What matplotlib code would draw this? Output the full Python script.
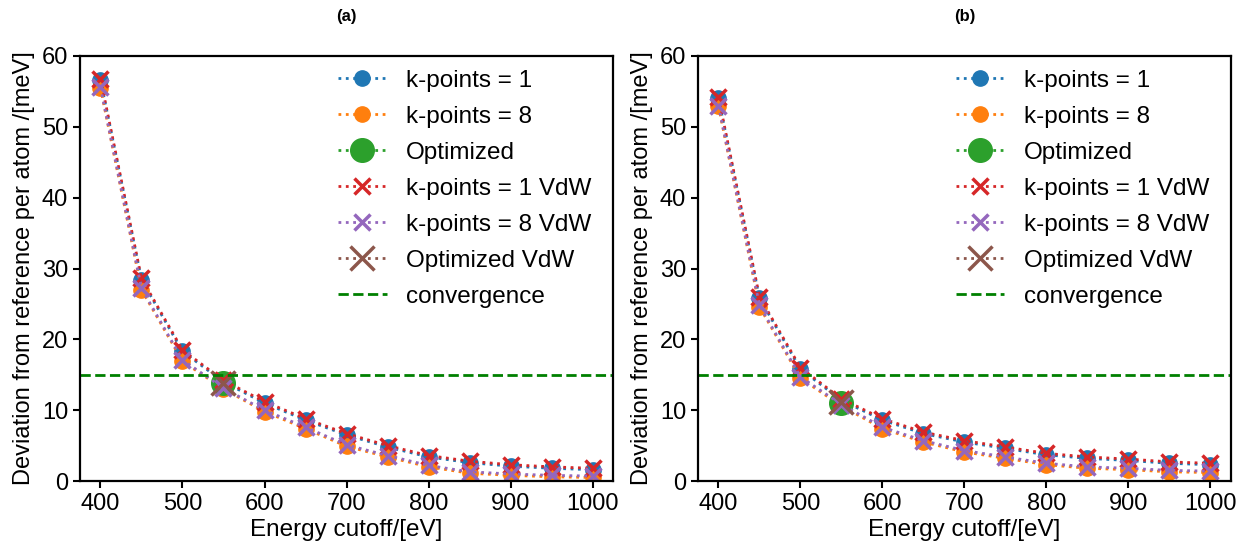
import matplotlib
matplotlib.use("Agg")
import matplotlib.pyplot as plt

plt.rcParams["font.family"] = ["Liberation Sans", "DejaVu Sans"]

cutoff = [400, 450, 500, 550, 600, 650, 700, 750, 800, 850, 900, 950, 1000]
opt_cutoff = 550
conv_level = 15

# panel (a)
a_k1    = [56.6, 28.4, 18.3, 14.0, 11.0, 8.6, 6.5, 4.8, 3.4, 2.6, 2.1, 1.8, 1.6]
a_k8    = [55.5, 27.0, 16.9, 13.0, 9.8, 7.4, 4.9, 3.4, 2.0, 1.1, 0.8, 0.6, 0.5]
a_k1_vdw = [56.8, 28.6, 18.5, 14.2, 11.2, 8.8, 6.7, 5.0, 3.6, 2.8, 2.3, 2.0, 1.8]
a_k8_vdw = [55.6, 27.2, 17.1, 13.1, 10.0, 7.6, 5.1, 3.6, 2.2, 1.3, 1.0, 0.8, 0.7]
a_opt     = 13.8
a_opt_vdw = 13.8

# panel (b)
b_k1    = [54.0, 25.8, 15.8, 11.4, 8.6, 6.7, 5.5, 4.6, 3.7, 3.2, 2.9, 2.5, 2.3]
b_k8    = [52.9, 24.6, 14.5, 10.6, 7.4, 5.5, 4.1, 3.2, 2.3, 1.8, 1.6, 1.3, 1.2]
b_k1_vdw = [54.2, 26.0, 16.0, 11.6, 8.8, 6.9, 5.7, 4.8, 3.9, 3.4, 3.1, 2.7, 2.5]
b_k8_vdw = [53.0, 24.8, 14.7, 10.8, 7.6, 5.7, 4.3, 3.4, 2.5, 2.0, 1.8, 1.5, 1.4]
b_opt     = 11.0
b_opt_vdw = 11.1

panels = [
    ("(a)", a_k1, a_k8, a_opt, a_k1_vdw, a_k8_vdw, a_opt_vdw),
    ("(b)", b_k1, b_k8, b_opt, b_k1_vdw, b_k8_vdw, b_opt_vdw),
]

fig = plt.figure(figsize=(12.38, 5.42), dpi=100)
ax_a = fig.add_axes([0.0646, 0.1125, 0.4306, 0.7842])
ax_b = fig.add_axes([0.5638, 0.1125, 0.4305, 0.7842])

for ax, (title, k1, k8, opt, k1v, k8v, optv) in zip((ax_a, ax_b), panels):
    ax.plot(cutoff, k1, ":", color="tab:blue", marker="o", ms=11, lw=2, label="k-points = 1")
    ax.plot(cutoff, k8, ":", color="tab:orange", marker="o", ms=11, lw=2, label="k-points = 8")
    ax.plot([opt_cutoff], [opt], ":", color="tab:green", marker="o", ms=17, lw=2, label="Optimized")
    ax.plot(cutoff, k1v, ":", color="tab:red", marker="x", ms=11, mew=2.5, lw=2, label="k-points = 1 VdW")
    ax.plot(cutoff, k8v, ":", color="tab:purple", marker="x", ms=11, mew=2.5, lw=2, label="k-points = 8 VdW")
    ax.plot([opt_cutoff], [optv], ":", color="tab:brown", marker="x", ms=17, mew=2.5, lw=2, label="Optimized VdW")
    ax.axhline(conv_level, color="green", ls="--", lw=2, label="convergence")

    ax.set_xlim(375, 1025)
    ax.set_ylim(0, 60)
    ax.set_xticks(range(400, 1001, 100))
    ax.set_yticks(range(0, 61, 10))
    ax.tick_params(labelsize=17, width=1.5, length=5)
    for sp in ax.spines.values():
        sp.set_linewidth(1.6)
    ax.set_xlabel("Energy cutoff/[eV]", fontsize=17.5, labelpad=3)
    ax.set_ylabel("Deviation from reference per atom /[meV]", fontsize=17, labelpad=5)
    ax.set_title(title, fontsize=12, fontweight="bold", pad=25)
    ax.legend(loc="upper right", bbox_to_anchor=(0.9775, 0.9906), borderaxespad=0,
              frameon=False, fontsize=17.5, handlelength=2.0, labelspacing=0.575)

fig.savefig("out.png", dpi=100)
